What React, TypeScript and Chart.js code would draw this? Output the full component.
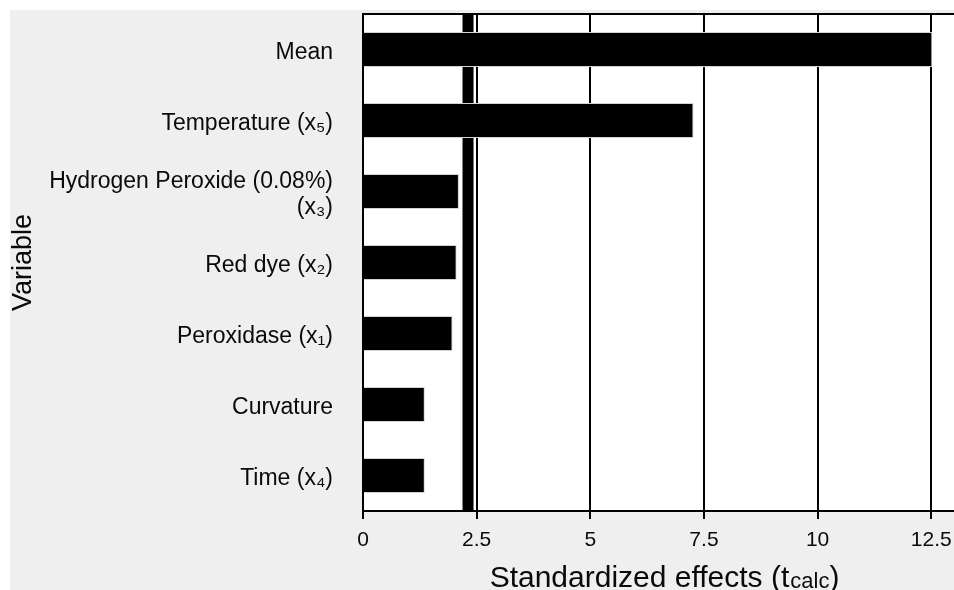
import React, { useEffect, useRef } from "react";
import { Chart, registerables } from "chart.js";

Chart.register(...registerables);

const categories: (string | string[])[] = [
  "Mean",
  "Temperature (x₅)",
  ["Hydrogen Peroxide (0.08%)", "(x₃)"],
  "Red dye (x₂)",
  "Peroxidase (x₁)",
  "Curvature",
  "Time (x₄)",
];
const effects = [12.52, 7.27, 2.11, 2.06, 1.97, 1.36, 1.36];
const criticalT = 2.31;
const xTicks = [0, 2.5, 5, 7.5, 10, 12.5];
const xMax = 13;
const yTitle = "Variable";
const xTitleMain = "Standardized effects (t";
const xTitleSub = "calc";
const xTitleEnd = ")";

const FONT = "'Liberation Sans', Arial, Helvetica, sans-serif";

const decorPlugin = {
  id: "decor",
  beforeDraw(chart: any) {
    const { ctx, chartArea: a } = chart;
    ctx.save();
    ctx.fillStyle = "#ffffff";
    ctx.fillRect(a.left, a.top, a.right - a.left, a.bottom - a.top);
    ctx.restore();
  },
  beforeDatasetsDraw(chart: any) {
    const { ctx, chartArea: a, scales } = chart;
    const x = scales.x;
    ctx.save();
    const cx = x.getPixelForValue(criticalT);
    ctx.fillStyle = "#000000";
    ctx.fillRect(cx - 5.5, a.top, 11, a.bottom - a.top);
    ctx.strokeStyle = "#000000";
    ctx.lineWidth = 2;
    ctx.beginPath();
    ctx.moveTo(a.left - 1, a.top);
    ctx.lineTo(a.right, a.top);
    ctx.stroke();
    ctx.restore();
  },
  afterDraw(chart: any) {
    const { ctx, chartArea: a } = chart;
    ctx.save();
    ctx.fillStyle = "#0a0a0a";
    ctx.textBaseline = "alphabetic";
    ctx.textAlign = "left";
    const mainFont = `30px ${FONT}`;
    const subFont = `22px ${FONT}`;
    ctx.font = mainFont;
    const w1 = ctx.measureText(xTitleMain).width;
    const w3 = ctx.measureText(xTitleEnd).width;
    ctx.font = subFont;
    const w2 = ctx.measureText(xTitleSub).width;
    const total = w1 + w2 + w3 + 1;
    let sx = (a.left + a.right) / 2 + 6 - total / 2;
    const baseY = 577;
    ctx.font = mainFont;
    ctx.fillText(xTitleMain, sx, baseY);
    sx += w1 + 1;
    ctx.font = subFont;
    ctx.fillText(xTitleSub, sx, baseY + 1);
    sx += w2;
    ctx.font = mainFont;
    ctx.fillText(xTitleEnd, sx, baseY);
    ctx.restore();
  },
};

export default function App() {
  const ref = useRef<HTMLCanvasElement>(null);

  useEffect(() => {
    if (!ref.current) return;
    const chart = new Chart(ref.current, {
      type: "bar",
      data: {
        labels: categories,
        datasets: [
          {
            data: effects,
            backgroundColor: "#000000",
            borderColor: "#d4d4d4",
            borderWidth: 1,
            barPercentage: 0.49,
            categoryPercentage: 1,
          },
        ],
      },
      options: {
        indexAxis: "y",
        responsive: false,
        animation: false,
        devicePixelRatio: 1,
        layout: { padding: { top: 4, left: 0, right: 0, bottom: 0 } },
        plugins: {
          legend: { display: false },
          tooltip: { enabled: false },
        },
        scales: {
          x: {
            type: "linear",
            min: 0,
            max: xMax,
            afterBuildTicks: (scale: any) => {
              scale.ticks = xTicks.map((v) => ({ value: v }));
            },
            afterFit: (scale: any) => {
              scale.height = 79;
              scale.paddingLeft = 0;
              scale.paddingRight = 0;
            },
            grid: {
              color: "#000000",
              lineWidth: 2,
              tickLength: 8,
              drawTicks: true,
            },
            border: { display: true, color: "#000000", width: 2 },
            ticks: {
              color: "#0a0a0a",
              font: { family: FONT, size: 21 },
              padding: 9,
              maxRotation: 0,
              autoSkip: false,
              callback: (v: any) => String(v),
            },
          },
          y: {
            afterFit: (scale: any) => {
              scale.width = 353;
              scale.paddingTop = 0;
              scale.paddingBottom = 0;
            },
            grid: { display: false, drawTicks: false, tickLength: 0 },
            border: { display: true, color: "#000000", width: 2 },
            ticks: {
              color: "#0a0a0a",
              font: { family: FONT, size: 23, lineHeight: 1.15 },
              padding: 30,
              labelOffset: 3,
              autoSkip: false,
            },
            title: {
              display: true,
              text: yTitle,
              color: "#0a0a0a",
              font: { family: FONT, size: 27, lineHeight: 1 },
              padding: 0,
            },
          },
        },
      },
      plugins: [decorPlugin],
    });
    return () => chart.destroy();
  }, []);

  return (
    <div
      style={{
        position: "fixed",
        left: 0,
        top: 0,
        width: 954,
        height: 590,
        background: "#ffffff",
        overflow: "hidden",
      }}
    >
      <div
        style={{
          position: "absolute",
          left: 10,
          top: 10,
          width: 944,
          height: 580,
          background: "#efefef",
        }}
      >
        <canvas ref={ref} width={944} height={580} style={{ display: "block" }} />
      </div>
    </div>
  );
}
